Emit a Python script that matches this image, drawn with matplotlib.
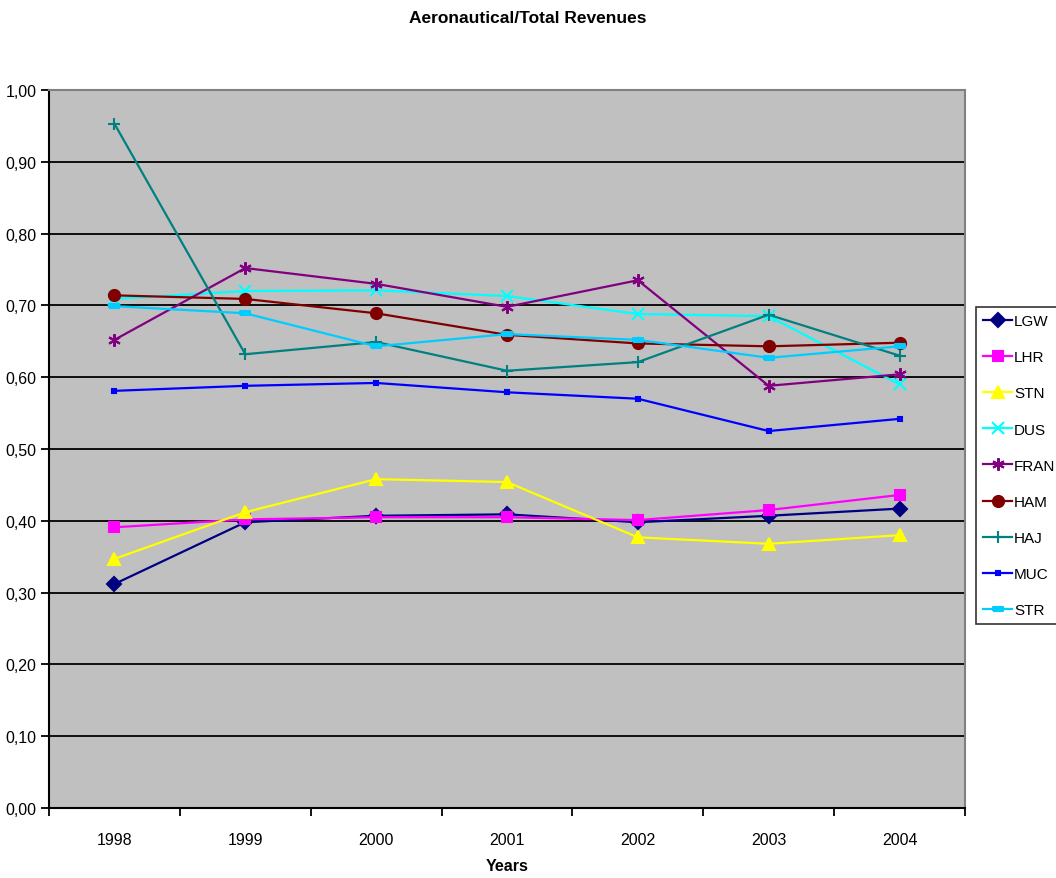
import numpy as np
import matplotlib
matplotlib.use('Agg')
import matplotlib.pyplot as plt
from matplotlib.ticker import FixedLocator, NullFormatter

plt.rcParams['font.family'] = ['Liberation Sans Narrow', 'Liberation Sans', 'DejaVu Sans']

years = ['1998', '1999', '2000', '2001', '2002', '2003', '2004']

LGW = [0.312, 0.398, 0.407, 0.409, 0.398, 0.407, 0.417]
LHR = [0.391, 0.402, 0.405, 0.405, 0.401, 0.415, 0.436]
STN = [0.347, 0.412, 0.458, 0.454, 0.377, 0.368, 0.380]
DUS = [0.709, 0.720, 0.721, 0.713, 0.688, 0.685, 0.590]
FRAN = [0.652, 0.752, 0.730, 0.698, 0.735, 0.588, 0.604]
HAM = [0.714, 0.709, 0.689, 0.659, 0.647, 0.643, 0.648]
HAJ = [0.953, 0.632, 0.649, 0.609, 0.621, 0.687, 0.630]
MUC = [0.581, 0.588, 0.592, 0.579, 0.570, 0.525, 0.542]
STR = [0.699, 0.689, 0.643, 0.660, 0.652, 0.627, 0.643]

# flat rectangle marker used for STR
rect = [(-1.4, -0.6), (1.4, -0.6), (1.4, 0.6), (-1.4, 0.6), (-1.4, -0.6)]

series = [
    ('LGW', LGW, '#000080', 'D', 7),
    ('LHR', LHR, '#FF00FF', 's', 7),
    ('STN', STN, '#FFFF00', '^', 8),
    ('DUS', DUS, '#00FFFF', 'x', 8),
    ('FRAN', FRAN, '#800080', (6, 2, 0), 9),
    ('HAM', HAM, '#800000', 'o', 8),
    ('HAJ', HAJ, '#008080', '+', 9),
    ('MUC', MUC, '#0000FF', 's', 3.5),
    ('STR', STR, '#00CCFF', rect, 7),
]

fig = plt.figure(figsize=(10.56, 8.79), dpi=100)
ax = fig.add_axes([0.0464, 0.0796, 0.8674, 0.8169])
ax.set_facecolor('#C0C0C0')

x = np.arange(len(years))
for name, vals, col, mk, ms in series:
    ax.plot(x, vals, color=col, lw=1.6, marker=mk, ms=ms,
            mfc=col, mec=col, mew=1.5, label=name)

ax.set_xlim(-0.5, len(years) - 0.5)
ax.set_ylim(0, 1.0)
ax.set_yticks(np.arange(0, 1.01, 0.1))
ax.set_yticklabels([f'{v:.2f}'.replace('.', ',') for v in np.arange(0, 1.01, 0.1)],
                   fontsize=11.5)
ax.yaxis.grid(True, color='black', lw=1.3)
ax.set_axisbelow(True)

# tick marks sit between the categories, labels at the centres
ax.set_xticks(x)
ax.set_xticklabels(years, fontsize=11.5)
ax.tick_params(axis='x', which='major', length=0, pad=17)
ax.xaxis.set_minor_locator(FixedLocator(np.arange(-0.5, len(years), 1.0)))
ax.xaxis.set_minor_formatter(NullFormatter())
ax.tick_params(axis='x', which='minor', length=6, width=1.3, direction='out')
ax.tick_params(axis='y', length=6, width=1.3, direction='out', pad=3)

for s in ['left', 'bottom']:
    ax.spines[s].set_color('black')
    ax.spines[s].set_linewidth(1.5)
for s in ['top', 'right']:
    ax.spines[s].set_color('#808080')
    ax.spines[s].set_linewidth(1.5)

ax.set_xlabel('Years', fontsize=11.5, fontweight='bold', labelpad=8)
fig.suptitle('Aeronautical/Total Revenues', fontsize=12.5, fontweight='bold', y=0.988)

leg = ax.legend(loc='center left', bbox_to_anchor=(0.9245, 0.469), bbox_transform=fig.transFigure,
                fontsize=11, frameon=True, fancybox=False, edgecolor='black',
                handlelength=1.9, labelspacing=1.45, borderpad=0.45, handletextpad=0.12,
                borderaxespad=0)
leg.get_frame().set_linewidth(1.2)

fig.savefig('out.png', dpi=100)
